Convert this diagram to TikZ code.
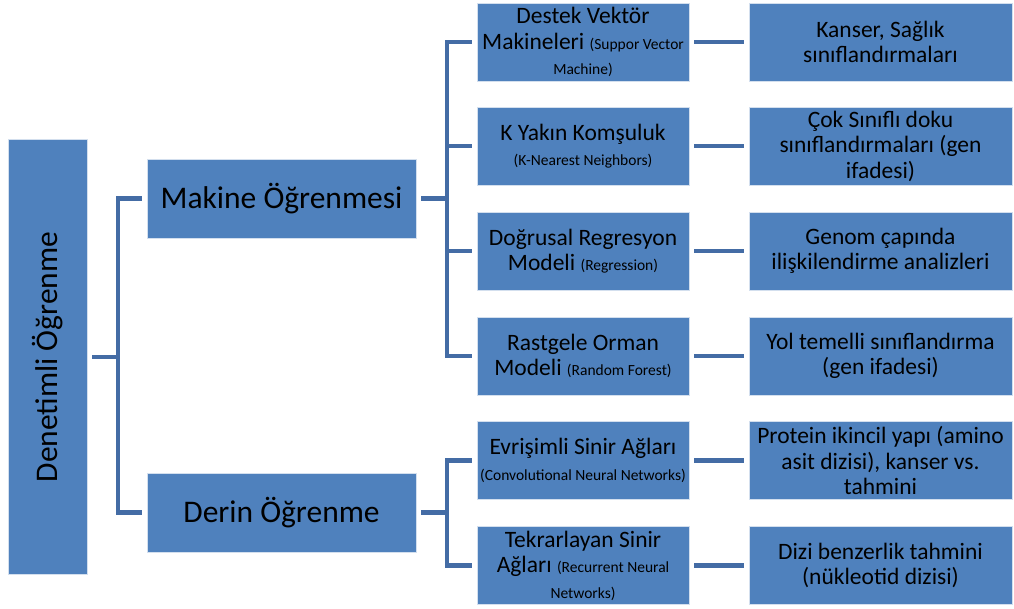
\documentclass[tikz,border=0pt]{standalone}
\usepackage{fontspec}
\setmainfont{Carlito}
\usepackage{tikz}
\usetikzlibrary{positioning,calc}

\definecolor{boxblue}{RGB}{79,129,189}
\definecolor{lineblue}{RGB}{68,108,165}

\newcommand{\sm}[1]{{\fontsize{15.5}{17}\selectfont #1}}

\begin{document}
\begin{tikzpicture}[x=1pt,y=-1pt]
        \tikzset{
            box/.style={fill=boxblue, draw=white!75!boxblue, line width=0.8pt, inner sep=0pt, outer sep=5pt, align=center, text=black},
            bigbox/.style={box, minimum width=269pt, minimum height=79pt, font=\fontsize{31.5}{34}\selectfont},
            midbox/.style={box, minimum width=212pt, minimum height=78pt, font=\fontsize{23.5}{25.5}\selectfont},
            resbox/.style={box, minimum width=263pt, minimum height=78pt, font=\fontsize{23.5}{25.5}\selectfont},
            conn/.style={lineblue, line width=4.5pt}
        }
        \useasboundingbox (0,0) rectangle (1014,608);
        \node[box, minimum width=79pt, minimum height=435pt, font=\fontsize{31.5}{34}\selectfont] (root) at (47.5,357) {\rotatebox{90}{Denetimli Öğrenme}};
        \node[bigbox] (makine) at (281.5,198.5) {Makine Öğrenmesi};
        \node[bigbox] (derin) at (281.5,512.5) {Derin Öğrenme};
        \node[midbox] (svm) at (583,42) {Destek Vektör\\Makineleri \sm{(Suppor Vector}\\\sm{Machine)}};
        \node[midbox] (knn) at (583,146) {K Yakın Komşuluk\\\sm{(K-Nearest Neighbors)}};
        \node[midbox] (reg) at (583,251) {Doğrusal Regresyon\\Modeli \sm{(Regression)}};
        \node[midbox] (rf) at (583,356) {Rastgele Orman\\Modeli \sm{(Random Forest)}};
        \node[midbox] (cnn) at (583,460.5) {Evrişimli Sinir Ağları\\\sm{(Convolutional Neural Networks)}};
        \node[midbox] (rnn) at (583,565.5) {Tekrarlayan Sinir\\Ağları \sm{(Recurrent Neural}\\\sm{Networks)}};
        \node[resbox] (r1) at (880.5,42) {Kanser, Sağlık\\sınıflandırmaları};
        \node[resbox] (r2) at (880.5,146) {Çok Sınıflı doku\\sınıflandırmaları (gen\\ifadesi)};
        \node[resbox] (r3) at (880.5,251) {Genom çapında\\ilişkilendirme analizleri};
        \node[resbox] (r4) at (880.5,356) {Yol temelli sınıflandırma\\(gen ifadesi)};
        \node[resbox] (r5) at (880.5,460.5) {Protein ikincil yapı (amino\\asit dizisi), kanser vs.\\tahmini};
        \node[resbox] (r6) at (880.5,565.5) {Dizi benzerlik tahmini\\(nükleotid dizisi)};
        \coordinate (j0) at (118,357);
        \coordinate (j1) at (447,198.5);
        \coordinate (j2) at (447,512.5);
        \draw[conn] (root.east) -- (j0);
        \draw[conn] (j0) |- (makine.west);
        \draw[conn] (j0) |- (derin.west);
        \draw[conn] (makine.east) -- (j1);
        \draw[conn] (j1) |- (svm.west);
        \draw[conn] (j1) |- (knn.west);
        \draw[conn] (j1) |- (reg.west);
        \draw[conn] (j1) |- (rf.west);
        \draw[conn] (derin.east) -- (j2);
        \draw[conn] (j2) |- (cnn.west);
        \draw[conn] (j2) |- (rnn.west);
        \draw[conn] (svm.east) -- (r1.west);
        \draw[conn] (knn.east) -- (r2.west);
        \draw[conn] (reg.east) -- (r3.west);
        \draw[conn] (rf.east) -- (r4.west);
        \draw[conn] (cnn.east) -- (r5.west);
        \draw[conn] (rnn.east) -- (r6.west);
    \end{tikzpicture}
\end{document}
